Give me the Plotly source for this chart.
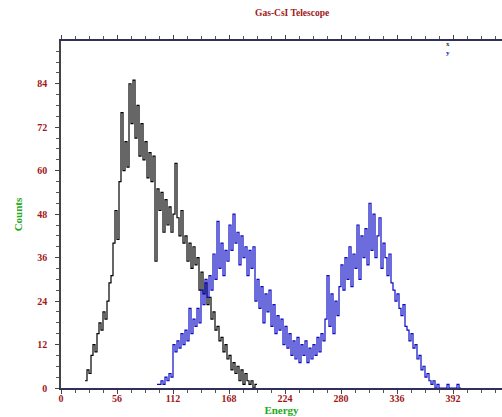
import plotly.graph_objects as go

# ---- data ----
bin_width = 2
x_start = 24          # first bin edge of series "x"
x_counts = [2, 5, 4, 9, 12, 10, 15, 18, 16, 21, 19, 24, 29, 31, 40, 49, 41, 57, 76, 60,
            68, 61, 84, 73, 85, 69, 78, 64, 73, 63, 68, 58, 65, 57, 64, 35, 55, 49, 54, 43,
            52, 45, 50, 43, 48, 62, 47, 42, 49, 40, 42, 35, 40, 33, 39, 34, 36, 27, 32, 26,
            29, 23, 25, 19, 21, 16, 17, 13, 14, 10, 12, 8, 9, 5, 7, 4, 6, 2, 5, 1,
            4, 2, 1, 2, 0, 1]
y_start = 96          # first bin edge of series "y"
y_counts = [1, 1, 2, 1, 3, 2, 4, 3, 12, 10, 13, 11, 15, 12, 16, 13, 22, 15, 19, 17,
            22, 18, 27, 23, 30, 25, 31, 27, 37, 30, 46, 33, 40, 31, 38, 35, 45, 38, 48, 40,
            43, 34, 42, 36, 39, 31, 38, 33, 39, 24, 30, 22, 28, 18, 26, 21, 27, 17, 23, 15,
            20, 16, 19, 12, 17, 11, 15, 9, 13, 8, 14, 7, 12, 9, 13, 7, 11, 8, 12, 9,
            14, 10, 15, 13, 19, 31, 17, 26, 15, 24, 20, 28, 34, 27, 36, 30, 39, 28, 37, 33,
            45, 30, 42, 36, 44, 34, 51, 38, 48, 36, 42, 47, 33, 40, 36, 31, 37, 29, 27, 24,
            26, 22, 20, 23, 17, 16, 13, 15, 11, 12, 8, 9, 5, 6, 3, 4, 2, 1, 2, 0,
            1, 0, 0, 0, 0, 1, 0, 0, 0, 0, 1, 0]
x_ticks = [0, 56, 112, 168, 224, 280, 336, 392]
y_ticks = [0, 12, 24, 36, 48, 60, 72, 84]

title_text = "Gas-CsI Telescope"
x_title = "Energy"
y_title = "Counts"


def step(start, counts):
    edges = [start + bin_width * i for i in range(len(counts) + 1)]
    return edges, counts + [counts[-1]]


fig = go.Figure()
ex, ey = step(x_start, x_counts)
fig.add_trace(go.Scatter(x=ex, y=ey, mode="lines", line_shape="hv",
                         line=dict(color="#000000", width=1.2), name="x"))
bx, by = step(y_start, y_counts)
fig.add_trace(go.Scatter(x=bx, y=by, mode="lines", line_shape="hv",
                         line=dict(color="#0a0ac4", width=1.2), name="y"))

serif = "Liberation Serif"
red = "#a01818"
green = "#22aa22"

fig.update_layout(
    width=502, height=417,
    margin=dict(l=61, r=0, t=41, b=29, autoexpand=False),
    paper_bgcolor="white", plot_bgcolor="white",
    showlegend=False,
    title=dict(text=title_text, x=0.582, xanchor="center", y=0.97, yanchor="middle",
               font=dict(family=serif, size=9.5, color=red, weight="bold")),
    xaxis=dict(range=[0, 441], tickvals=x_ticks, showgrid=False, zeroline=False,
               showline=True, linecolor="#30305a", linewidth=1.5, mirror="ticks",
               ticks="outside", ticklen=4, tickcolor="#444444", automargin=False,
               ticklabelstandoff=-4,
               minor=dict(dtick=14, ticks="outside", ticklen=3, tickcolor="#555555"),
               tickfont=dict(family=serif, size=10, color=red, weight="bold"),
               title=dict(text=x_title, standoff=4,
                          font=dict(family=serif, size=11, color=green, weight="bold"))),
    yaxis=dict(range=[0, 95.8], tickvals=y_ticks, showgrid=False, zeroline=False,
               showline=True, linecolor="#444444", linewidth=1.5, automargin=False,
               ticks="outside", ticklen=4, tickcolor="#444444", ticklabelstandoff=6,
               minor=dict(dtick=3, ticks="outside", ticklen=3, tickcolor="#555555"),
               tickfont=dict(family=serif, size=10, color=red, weight="bold"),
               title=dict(text=y_title, standoff=12,
                          font=dict(family=serif, size=11, color=green, weight="bold"))),
    annotations=[
        dict(text="x", x=0.8776, y=0.991, xref="paper", yref="paper", showarrow=False,
             xanchor="center", yanchor="middle",
             font=dict(family=serif, size=7, color="#333333", weight="bold")),
        dict(text="y", x=0.8776, y=0.965, xref="paper", yref="paper", showarrow=False,
             xanchor="center", yanchor="middle",
             font=dict(family=serif, size=7, color="#0a0ac4", weight="bold")),
    ],
)

fig.write_html("out.html", config={"displayModeBar": False},
               post_script="document.body.style.margin='0';document.body.style.overflow='hidden';")
